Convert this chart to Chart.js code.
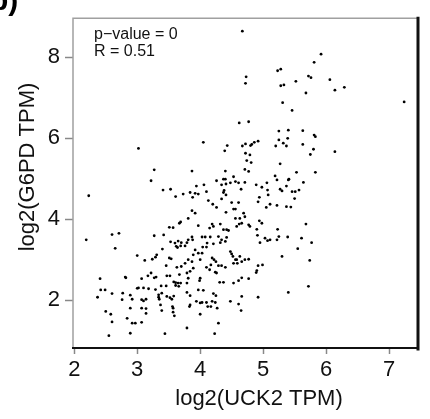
<!DOCTYPE html>
<html>
<head>
<meta charset="utf-8">
<script src="https://cdn.jsdelivr.net/npm/chart.js@4.4.0/dist/chart.umd.min.js"></script>
<style>
  html, body { margin: 0; padding: 0; background: #fff; }
  #wrap { width: 430px; height: 419px; }
</style>
</head>
<body>
<div id="wrap"><canvas id="grafico"></canvas></div>
<script>
// valores (log2 TPM)
var uck2 = [
  3.27,3.22,2.23,3.41,3.53,3.61,3.73,3.67,3.69,3.51,3.57,2.60,2.71,2.19,3.27,3.42,2.65,
  3.53,3.60,3.65,3.70,3.62,3.64,3.69,3.40,3.00,3.31,3.29,3.24,3.12,3.51,3.54,3.46,3.63,3.70,
  3.22,3.27,2.81,2.82,3.47,3.52,2.41,3.07,3.17,3.30,3.67,3.65,3.61,3.58,3.69,3.61,3.66,
  3.02,3.00,3.10,3.18,3.29,3.38,3.46,2.42,2.49,2.37,2.60,2.76,2.77,2.89,2.92,
  3.07,3.10,3.14,3.34,3.34,3.35,3.39,3.47,3.52,3.55,3.58,
  2.89,3.14,3.07,3.37,3.56,3.57,3.14,3.39,2.50,2.58,3.57,3.59,2.84,2.92,2.97,3.07,2.60,
  2.55,2.89,3.44,
  4.74,4.81,5.27,3.87,4.40,4.71,4.77,
  4.26,4.37,4.40,4.48,4.53,4.56,4.61,4.71,4.34,4.41,4.38,3.94,4.06,
  3.84,3.92,3.97,3.88,4.10,4.37,4.41,4.34,4.65,
  4.89,4.98,5.06,5.19,5.22,5.07,5.08,5.27,5.30,5.37,5.40,4.94,4.92,
  4.13,4.20,4.26,4.50,4.61,4.53,4.56,5.11,5.22,5.37,5.05,3.87,3.92,4.41,
  4.56,4.63,4.69,4.71,4.66,4.62,4.58,4.77,4.79,3.81,
  4.19,4.21,4.15,4.32,4.37,4.42,4.45,3.97,
  4.90,4.94,4.98,4.91,4.95,5.03,5.07,5.11,5.23,5.25,5.22,5.39,
  4.03,4.08,4.11,4.04,4.10,4.16,4.21,4.29,4.34,4.42,4.40,4.32,
  3.87,3.88,3.81,3.79,3.76,3.92,3.89,3.97,
  4.48,4.50,4.52,4.56,4.58,4.59,4.53,4.63,4.71,4.77,4.66,
  4.19,4.22,4.17,4.25,4.29,4.34,4.40,4.03,4.00,3.87,3.81,3.76,
  4.10,4.15,4.24,4.26,3.89,3.84,3.79,4.92,4.99,4.90,4.89,
  4.77,4.66,4.61,4.53,4.37,4.31,4.00,3.99,3.81,3.79,4.05,3.97,
  3.79,3.84,3.83,3.84,3.94,4.00,4.03,4.10,4.12,4.17,4.19,4.24,4.25,4.21,4.27,
  4.00,4.48,4.61,4.65,4.66,4.92,5.40,3.79,4.29,4.23,5.30,
  5.53,5.83,5.41,5.64,5.46,5.51,5.57,5.50,5.44,5.68,5.61,5.77,5.55,5.74,5.72,
  3.02,
  4.67,5.23,5.28,4.73,4.72,5.28,5.33,5.31,4.62,4.77,5.25,5.40,4.05,4.39,4.43,
  4.67,4.72,4.80,4.82,4.86,4.92,4.72,4.79,5.20,5.25,5.32,5.37,5.39,
  5.92,5.81,5.72,5.76,5.52,6.06,6.14,6.29,5.68,7.24,5.46,5.63,5.81,5.83,5.63,5.80,5.75,6.14
];
var g6pd = [
  5.22,4.95,4.58,4.72,4.74,4.56,4.62,3.90,3.93,3.80,3.79,3.62,3.65,3.49,3.59,3.61,3.28,
  3.44,3.41,3.46,3.42,3.33,3.30,3.34,3.26,3.10,3.12,3.06,3.01,2.98,3.04,3.02,2.85,2.81,2.83,
  2.67,2.55,2.57,2.55,2.60,2.60,2.53,2.53,2.60,2.57,2.63,2.42,2.43,2.45,2.42,2.36,2.34,
  2.30,2.29,2.30,2.28,2.26,2.35,2.35,2.25,2.25,2.07,2.16,2.01,2.17,2.12,2.02,
  2.01,1.98,2.02,2.13,2.07,2.02,2.17,2.09,2.06,2.02,2.10,
  1.80,1.79,1.80,1.88,1.84,1.80,1.67,1.74,1.72,1.65,1.70,1.61,1.55,1.43,1.43,1.45,1.46,
  1.12,1.18,1.17,
  5.45,5.40,5.37,5.19,5.19,5.23,5.18,
  4.95,4.99,4.99,4.90,5.05,4.93,4.90,4.91,4.85,4.87,4.71,4.82,4.85,
  4.66,4.64,4.62,4.54,4.68,4.66,4.60,4.50,4.74,
  4.85,4.79,4.90,5.07,4.97,4.72,4.60,4.74,4.70,4.82,4.97,4.54,4.43,
  4.46,4.37,4.29,4.41,4.41,4.25,4.25,4.37,4.34,4.31,4.29,4.21,4.15,4.17,
  4.02,4.02,4.15,4.06,3.90,3.88,3.82,3.86,3.82,4.02,
  3.88,3.82,3.78,3.88,3.74,3.74,3.72,3.84,
  3.75,3.96,3.90,3.60,3.42,3.53,3.47,3.49,3.75,3.57,3.49,3.56,
  3.56,3.56,3.41,3.31,3.31,3.56,3.39,3.57,3.49,3.55,3.45,3.42,
  3.56,3.49,3.49,3.42,3.34,3.24,3.12,3.16,
  3.20,3.14,3.08,3.00,3.00,2.91,2.91,3.08,3.00,3.01,2.95,
  3.04,3.00,2.87,2.95,2.85,2.85,2.81,3.16,3.00,2.95,3.00,2.91,
  2.81,2.75,2.69,2.67,2.79,2.71,2.67,2.85,2.87,2.73,2.68,
  2.53,2.55,2.48,2.42,2.44,2.44,2.54,2.48,2.54,2.42,2.24,2.25,
  2.19,2.11,1.84,1.88,1.97,1.93,1.94,1.94,1.84,1.84,1.97,1.94,2.11,2.16,1.80,
  1.65,1.97,1.90,1.74,2.09,2.07,2.19,1.31,1.43,1.17,3.08,
  5.16,5.16,4.99,4.91,4.68,4.68,4.72,4.51,4.30,3.88,3.53,3.42,3.27,2.98,2.34,
  5.75,
  8.65,7.67,7.71,7.52,7.36,7.30,7.32,6.88,6.38,6.41,6.18,6.20,5.90,5.69,5.82,
  5.81,5.86,5.82,5.85,5.90,5.93,5.63,5.59,5.81,5.96,5.88,5.81,6.00,
  8.08,7.88,7.54,7.50,7.41,7.45,7.19,7.26,7.12,6.90,6.69,6.19,6.08,6.04,5.85,5.73,5.60,5.67
];
var ticksX = [2, 3, 4, 5, 6, 7];
var ticksY = [2, 4, 6, 8];
var tituloX = 'log2(UCK2 TPM)';
var tituloY = 'log2(G6PD TPM)';
var legenda = ['p\u2212value = 0', 'R = 0.51'];
var painel = 'b)';

var fonte = "'Liberation Sans', Arial, Helvetica, sans-serif";

function montarPontos(xs, ys) {
    var pontos = [];
    for (var i = 0; i < xs.length; i++) {
        pontos.push({x: xs[i], y: ys[i]});
    }
    return pontos;
}

// moldura (cinza em cima/esquerda, preta embaixo/direita) e textos
var molduraTextos = {
    id: 'molduraTextos',
    afterDraw: function(chart) {
        var ctx = chart.ctx;
        var a = chart.chartArea;
        ctx.save();
        ctx.lineCap = 'square';
        ctx.strokeStyle = '#a0a0a0';
        ctx.lineWidth = 1.5;
        ctx.beginPath();
        ctx.moveTo(a.left, a.bottom);
        ctx.lineTo(a.left, a.top);
        ctx.lineTo(a.right, a.top);
        ctx.stroke();

        ctx.strokeStyle = '#111';
        ctx.lineWidth = 2;
        ctx.beginPath();
        ctx.moveTo(a.left, a.bottom);
        ctx.lineTo(a.right, a.bottom);
        ctx.stroke();
        ctx.lineWidth = 3;
        ctx.beginPath();
        ctx.moveTo(a.right, a.top);
        ctx.lineTo(a.right, a.bottom + 1);
        ctx.stroke();

        ctx.fillStyle = '#111';
        ctx.textAlign = 'left';
        ctx.textBaseline = 'alphabetic';
        ctx.font = '16px ' + fonte;
        ctx.fillText(legenda[0], a.left + 21, 39);
        ctx.fillText(legenda[1], a.left + 21, 56);

        ctx.textAlign = 'center';
        ctx.textBaseline = 'middle';
        ctx.font = '22px ' + fonte;
        ctx.fillText(tituloX, 259, 399);

        ctx.translate(28, 167);
        ctx.rotate(-Math.PI / 2);
        ctx.fillText(tituloY, 0, 0);
        ctx.restore();

        ctx.save();
        ctx.fillStyle = '#000';
        ctx.font = 'bold 30px ' + fonte;
        ctx.textAlign = 'left';
        ctx.textBaseline = 'alphabetic';
        ctx.fillText(painel, -10, 10);
        ctx.restore();
    }
};

var ctx = document.getElementById('grafico').getContext('2d');
var grafico = new Chart(ctx, {
    type: 'scatter',
    data: {
        datasets: [{
            data: montarPontos(uck2, g6pd),
            backgroundColor: '#000',
            borderWidth: 0,
            pointRadius: 1.4,
            pointHoverRadius: 1.4
        }]
    },
    options: {
        responsive: true,
        maintainAspectRatio: false,
        animation: false,
        layout: { padding: { top: 18, right: 12, left: 0, bottom: 0 } },
        plugins: {
            legend: { display: false },
            tooltip: { enabled: false }
        },
        scales: {
            x: {
                type: 'linear',
                min: 1.98,
                max: 7.46,
                afterBuildTicks: function(scale) {
                    scale.ticks = ticksX.map(function(v) { return {value: v}; });
                },
                afterFit: function(scale) { scale.height = 71; },
                border: { display: false },
                grid: {
                    drawOnChartArea: false,
                    drawTicks: true,
                    tickLength: 6,
                    tickColor: '#888',
                    tickWidth: 1.5
                },
                ticks: {
                    color: '#111',
                    padding: 3,
                    maxRotation: 0,
                    font: { family: fonte, size: 22 }
                }
            },
            y: {
                type: 'linear',
                min: 0.815,
                max: 8.97,
                afterBuildTicks: function(scale) {
                    scale.ticks = ticksY.map(function(v) { return {value: v}; });
                },
                afterFit: function(scale) { scale.width = 73; },
                border: { display: false },
                grid: {
                    drawOnChartArea: false,
                    drawTicks: true,
                    tickLength: 8,
                    tickColor: '#888',
                    tickWidth: 1.5
                },
                ticks: {
                    color: '#111',
                    padding: 5,
                    font: { family: fonte, size: 22 }
                }
            }
        }
    },
    plugins: [molduraTextos]
});
</script>
</body>
</html>
